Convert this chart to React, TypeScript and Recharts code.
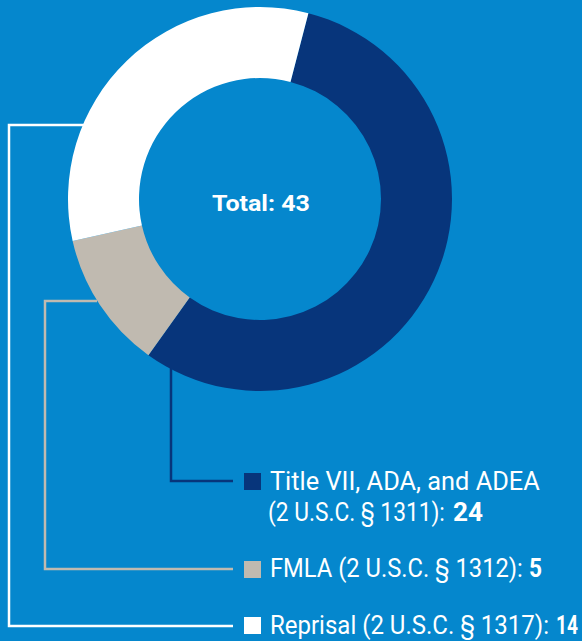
import React, { useLayoutEffect, useRef, useState } from 'react';
import { PieChart, Pie, Cell, Customized } from 'recharts';

const categories = ['Title VII, ADA, and ADEA', 'FMLA', 'Reprisal'];
const citations = ['(2 U.S.C. § 1311)', '(2 U.S.C. § 1312)', '(2 U.S.C. § 1317)'];
const values = [24, 5, 14];
const colors = ['#07357B', '#C0BAB0', '#FFFFFF'];
const total = values.reduce((a, b) => a + b, 0);

const data = categories.map((name, i) => ({ name, value: values[i] }));

const BG = '#0587CD';
const FONT = 'Roboto, sans-serif';
const FS = 25;

type STProps = { x: number; y: number; width: number; bold?: boolean; size?: number; children: React.ReactNode };

const ScaledText = ({ x, y, width, bold, size = FS, children }: STProps) => {
  const ref = useRef<SVGTextElement>(null);
  const [s, setS] = useState(1);
  useLayoutEffect(() => {
    if (ref.current) {
      const w = ref.current.getComputedTextLength();
      if (w > 0) setS(width / w);
    }
  }, [width]);
  return (
    <g transform={`translate(${x},${y}) scale(${s},1)`}>
      <text ref={ref} x={0} y={0} fill="#fff" fontFamily={FONT} fontSize={size} fontWeight={bold ? 700 : 400}>
        {children}
      </text>
    </g>
  );
};

const Overlay = () => {
  return (
    <g>
      {/* connectors */}
      <polyline points="171,368 171,481 233,481" fill="none" stroke={colors[0]} strokeWidth={2.5} />
      <polyline points="97,301 45,301 45,569 233,569" fill="none" stroke={colors[1]} strokeWidth={2.5} />
      <polyline points="84,125 9,125 9,626 233,626" fill="none" stroke={colors[2]} strokeWidth={2.5} />
      {/* legend squares */}
      <rect x={244} y={473} width={17} height={17} fill={colors[0]} />
      <rect x={244} y={561} width={17} height={17} fill={colors[1]} />
      <rect x={244} y={617} width={17} height={17} fill={colors[2]} />
      {/* legend texts */}
      <ScaledText x={270} y={490} width={270}>{categories[0]}</ScaledText>
      <ScaledText x={268} y={521} width={177}>{`${citations[0]}:`}</ScaledText>
      <ScaledText x={453} y={521} width={30} bold>{values[0]}</ScaledText>
      <ScaledText x={270} y={577} width={253}>{`${categories[1]} ${citations[1]}:`}</ScaledText>
      <ScaledText x={529} y={577} width={13} bold>{values[1]}</ScaledText>
      <ScaledText x={270} y={634} width={279}>{`${categories[2]} ${citations[2]}:`}</ScaledText>
      <ScaledText x={556} y={634} width={22} bold>{values[2]}</ScaledText>
      <ScaledText x={212} y={211} width={98} bold size={22.5}>{`Total: ${total}`}</ScaledText>
    </g>
  );
};

export default function App() {
  return (
    <div style={{ position: 'absolute', left: 0, top: 0, width: 582, height: 641, background: BG }}>
      <PieChart width={582} height={641} margin={{ top: 0, right: 0, bottom: 0, left: 0 }}>
        <Pie
          data={data}
          dataKey="value"
          nameKey="name"
          cx={260}
          cy={199}
          outerRadius={192}
          innerRadius={121}
          startAngle={75.4}
          endAngle={-284.6}
          stroke="none"
          isAnimationActive={false}
        >
          {data.map((d, i) => (
            <Cell key={d.name} fill={colors[i]} />
          ))}
        </Pie>
        <Customized component={Overlay} />
      </PieChart>
    </div>
  );
}
